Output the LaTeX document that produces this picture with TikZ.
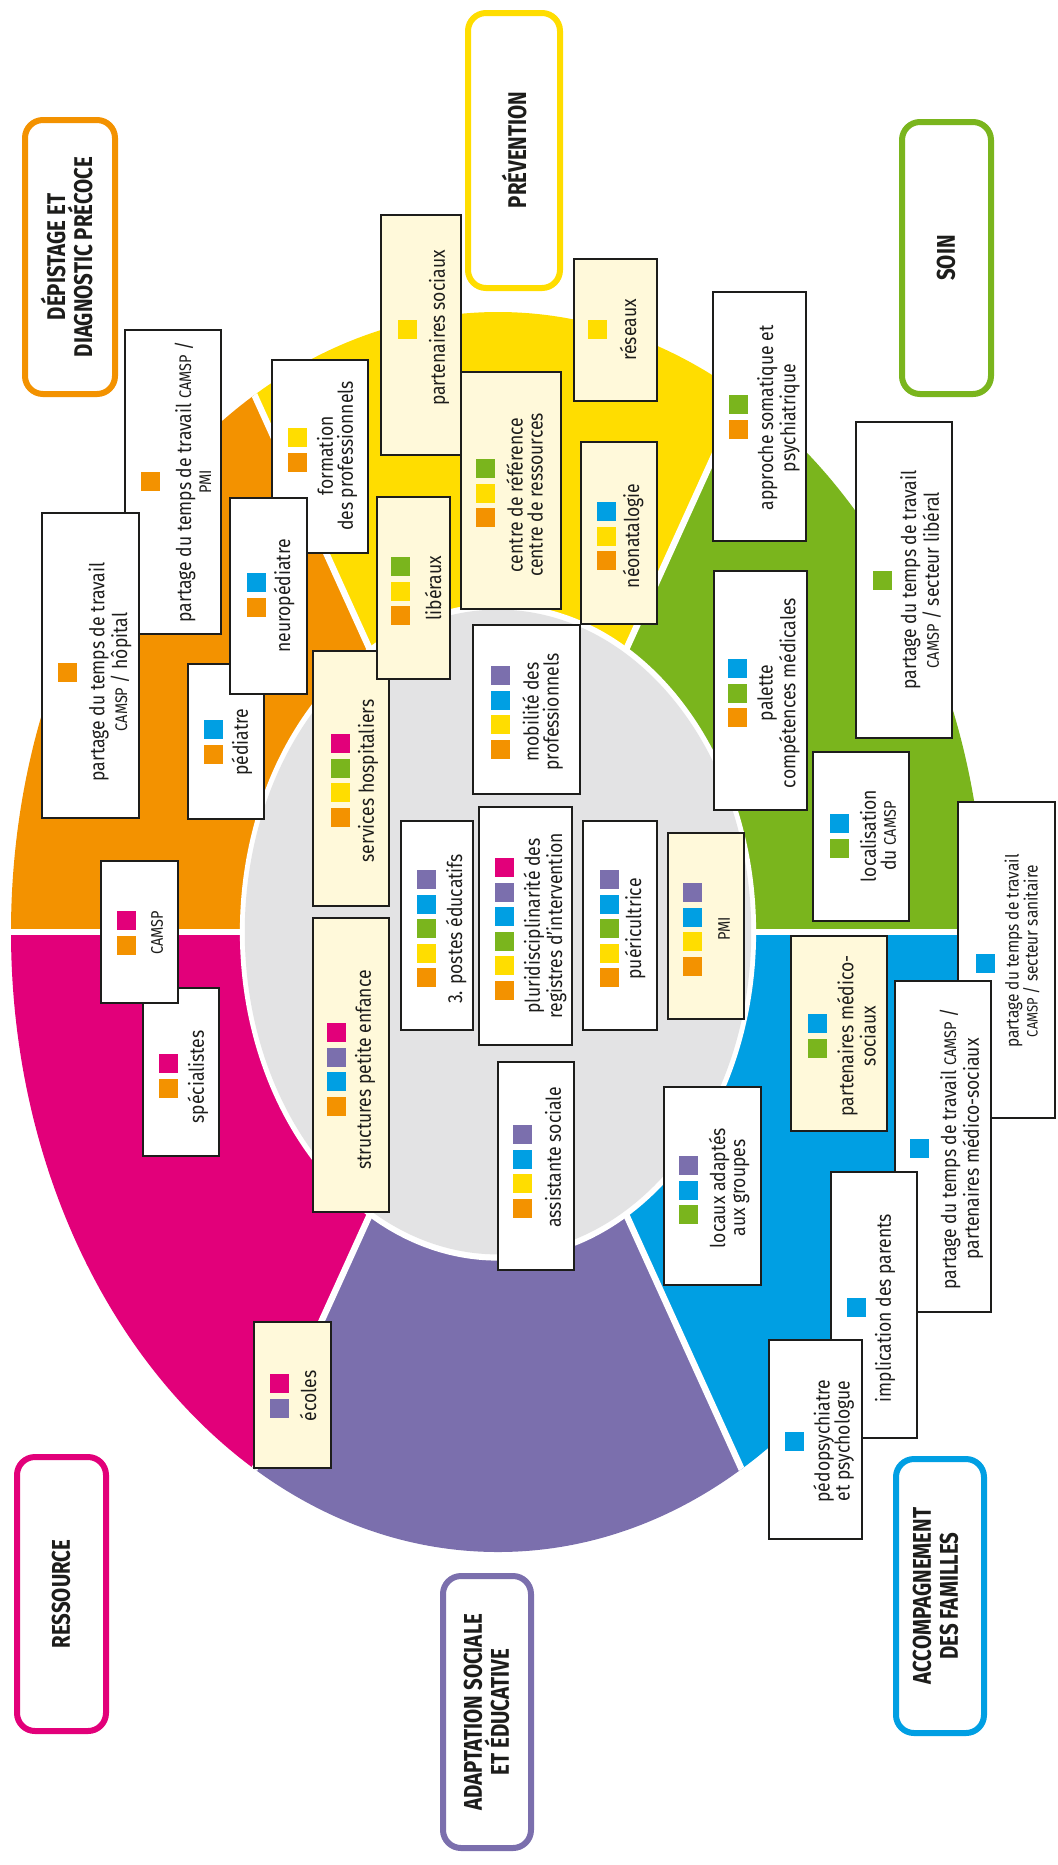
\documentclass[tikz,border=0pt]{standalone}
\usepackage{fontspec}
\setmainfont{Fira Sans}[FakeStretch=0.86]
\newfontfamily\hfont{Fira Sans}[FakeStretch=0.80]
\usetikzlibrary{fit}
\definecolor{cor}{HTML}{F39200}
\definecolor{cye}{HTML}{FFDD00}
\definecolor{cgr}{HTML}{7AB51D}
\definecolor{cbl}{HTML}{009FE3}
\definecolor{cpu}{HTML}{7B6FAD}
\definecolor{cma}{HTML}{E2007A}
\definecolor{cgy}{HTML}{E3E3E4}
\definecolor{ccr}{HTML}{FFF9DA}
\definecolor{ink}{HTML}{1D1D1B}
\newcommand\cam{{\fontsize{8.4}{10}\selectfont CAMSP}}
\newcommand\pmi{{\fontsize{8.4}{10}\selectfont PMI}}
\newcommand\ibx[6]{%
  \coordinate (#1-a) at (#2,#3); \coordinate (#1-b) at (#4,#5);
  \node[ibox, fill=#6, fit=(#1-a)(#1-b)] (#1) {};}
\newcommand\cbx[6]{%
  \coordinate (#1-a) at (#2+3,#3+3); \coordinate (#1-b) at (#4-3,#5-3);
  \node[cbox, draw=#6, fit=(#1-a)(#1-b)] (#1) {};}
\newcommand\sqs[3]{\foreach \c [count=\i from 0] in {#3} {\fill[\c] (#1,{#2+24.5*\i}) rectangle ++(19,19);}}
\begin{document}
\begin{tikzpicture}[x=0.5pt,y=-0.5pt,
  ibox/.style={draw=ink, line width=1pt, inner sep=0pt},
  cbox/.style={line width=3pt, rounded corners=9pt, fill=white, inner sep=0pt},
  txt/.style={rotate=90, align=center, text=ink, font=\fontsize{10.2}{10}\selectfont, inner sep=0pt},
  stxt/.style={rotate=90, align=center, text=ink, font=\fontsize{9}{9.5}\selectfont, inner sep=0pt},
  htxt/.style={rotate=90, align=center, text=ink, font=\hfont\bfseries\fontsize{12.8}{13.5}\selectfont, inner sep=0pt}]
\useasboundingbox (0,0) rectangle (1057,1865);
% ---- pie ----
\begin{scope}[shift={(498,932)}, x={(243.5pt,0pt)}, y={(0pt,310pt)}]
  \coordinate (ctr) at (0,0);
  \begin{scope}
    \clip (0,0) circle [radius=1];
    \fill[cgr] (0,0) -- (0:1.5) -- (30:1.5) -- (60:1.5) -- cycle;
    \fill[cye] (0,0) -- (60:1.5) -- (90:1.5) -- (120:1.5) -- cycle;
    \fill[cor] (0,0) -- (120:1.5) -- (150:1.5) -- (180:1.5) -- cycle;
    \fill[cma] (0,0) -- (180:1.5) -- (210:1.5) -- (240:1.5) -- cycle;
    \fill[cpu] (0,0) -- (240:1.5) -- (270:1.5) -- (300:1.5) -- cycle;
    \fill[cbl] (0,0) -- (300:1.5) -- (330:1.5) -- (360:1.5) -- cycle;
    \foreach \a in {0,60,...,300} {\draw[white, line width=3.2pt] (ctr) -- (\a:1.2);}
  \end{scope}
  \fill[white] (ctr) circle [radius=0.53];
  \fill[cgy] (ctr) circle [radius=0.52];
\end{scope}
% ---- category boxes ----
\cbx{dep}{22}{117}{118}{397}{cor}
\node[htxt] (dep-t) at (66.5,257) {DÉPISTAGE ET\\DIAGNOSTIC PRÉCOCE};
\cbx{prev}{465}{10}{563}{291}{cye}
\node[htxt] (prev-t) at (514,150) {PRÉVENTION};
\cbx{soin}{899}{119}{994}{397}{cgr}
\node[htxt] (soin-t) at (946,258) {SOIN};
\cbx{acc}{893}{1456}{987}{1736}{cbl}
\node[htxt] (acc-t) at (935.5,1596) {ACCOMPAGNEMENT\\DES FAMILLES};
\cbx{adapt}{440}{1573}{534}{1851}{cpu}
\node[htxt] (adapt-t) at (486.5,1712) {ADAPTATION SOCIALE\\ET ÉDUCATIVE};
\cbx{res}{14}{1454}{109}{1734}{cma}
\node[htxt] (res-t) at (61,1594) {RESSOURCE};
% ---- information boxes ----
\ibx{campmi}{125}{330}{221}{634}{white} \sqs{141}{472}{cor}
\node[txt] (campmi-t) at (193,482) {partage du temps de travail \cam{} /\\\pmi};
\ibx{camhop}{42}{513}{139}{818}{white} \sqs{58}{663}{cor}
\node[txt] (camhop-t) at (110,672) {partage du temps de travail\\\cam{} / hôpital};
\ibx{pedia}{188}{664}{264}{819}{white} \sqs{204}{720}{cbl,cor}
\node[txt] (pedia-t) at (242,742) {pédiatre};
\ibx{form}{272}{360}{368}{553}{white} \sqs{288}{428}{cye,cor}
\node[txt] (form-t) at (337,456) {formation\\des professionnels};
\ibx{neuro}{230}{498}{307}{694}{white} \sqs{247}{573}{cbl,cor}
\node[txt] (neuro-t) at (284,596) {neuropédiatre};
\ibx{psoc}{381}{215}{461}{455}{ccr} \sqs{398}{320}{cye}
\node[txt] (psoc-t) at (439,328) {partenaires sociaux};
\ibx{cref}{461}{372}{561}{609}{ccr} \sqs{476}{459}{cgr,cye,cor}
\node[txt] (cref-t) at (524.5,495) {centre de référence\\centre de ressources};
\ibx{servh}{313}{651}{389}{906}{ccr} \sqs{331}{734}{cma,cgr,cye,cor}
\node[txt] (servh-t) at (368,781) {services hospitaliers};
\ibx{liber}{377}{497}{450}{679}{ccr} \sqs{391}{557}{cgr,cye,cor}
\node[txt] (liber-t) at (433,588) {libéraux};
\ibx{struct}{313}{918}{389}{1212}{ccr} \sqs{327}{1023}{cma,cpu,cbl,cor}
\node[txt] (struct-t) at (365,1070) {structures petite enfance};
\ibx{spec}{143}{988}{219}{1156}{white} \sqs{159}{1054}{cma,cor}
\node[txt] (spec-t) at (198,1077) {spécialistes};
\ibx{camsp}{101}{861}{178}{1003}{white} \sqs{117}{911}{cma,cor}
\node[txt] (camsp-t) at (157,933) {\cam};
\ibx{ecoles}{254}{1322}{331}{1468}{ccr} \sqs{270}{1374}{cma,cpu}
\node[txt] (ecoles-t) at (308,1396) {écoles};
\ibx{postes}{401}{821}{473}{1030}{white} \sqs{417}{870}{cpu,cbl,cgr,cye,cor}
\node[txt] (postes-t) at (456,929) {3. postes éducatifs};
\ibx{pluri}{479}{807}{572}{1045}{white} \sqs{495}{858}{cma,cpu,cbl,cgr,cye,cor}
\node[txt] (pluri-t) at (545,926) {pluridisciplinarité des\\registres d'intervention};
\ibx{mobil}{473}{625}{580}{794}{white} \sqs{491}{666}{cpu,cbl,cye,cor}
\node[txt] (mobil-t) at (542.5,712) {mobilité des\\professionnels};
\ibx{assist}{498}{1062}{574}{1270}{white} \sqs{513}{1125}{cpu,cbl,cye,cor}
\node[txt] (assist-t) at (553,1157) {assistante sociale};
\ibx{pueri}{583}{821}{657}{1030}{white} \sqs{600}{870}{cpu,cbl,cgr,cye,cor}
\node[txt] (pueri-t) at (635,929) {puéricultrice};
\ibx{pmi}{668}{833}{744}{1019}{ccr} \sqs{683}{883}{cpu,cbl,cye,cor}
\node[txt] (pmi-t) at (724,929) {\pmi};
\ibx{reseaux}{574}{259}{657}{401}{ccr} \sqs{588}{320}{cye}
\node[txt] (reseaux-t) at (628,330) {réseaux};
\ibx{neonat}{581}{442}{657}{624}{ccr} \sqs{597}{502}{cbl,cye,cor}
\node[txt] (neonat-t) at (633,536) {néonatalogie};
\ibx{approche}{713}{292}{806}{541}{white} \sqs{729}{395}{cgr,cor}
\node[txt] (approche-t) at (778.5,418) {approche somatique et\\psychiatrique};
\ibx{palette}{714}{571}{807}{810}{white} \sqs{728}{659}{cbl,cgr,cor}
\node[txt] (palette-t) at (778.5,693) {palette\\compétences médicales};
\ibx{seclib}{856}{422}{952}{738}{white} \sqs{873}{571}{cgr}
\node[txt] (seclib-t) at (920.5,580) {partage du temps de travail\\\cam{} / secteur libéral};
\ibx{locali}{813}{752}{909}{921}{white} \sqs{830}{814}{cbl,cgr}
\node[txt] (locali-t) at (878,836) {localisation\\du \cam};
\ibx{secsan}{958}{802}{1055}{1118}{white} \sqs{976}{954}{cbl}
\node[stxt] (secsan-t) at (1022,951) {partage du temps de travail\\{\fontsize{7.5}{9}\selectfont CAMSP} / secteur sanitaire};
\ibx{pms}{791}{936}{887}{1131}{ccr} \sqs{808}{1014}{cbl,cgr}
\node[txt] (pms-t) at (856.5,1036) {partenaires médico-\\sociaux};
\ibx{pcms}{895}{981}{991}{1312}{white} \sqs{910}{1139}{cbl}
\node[txt] (pcms-t) at (961.5,1149) {partage du temps de travail \cam{} /\\partenaires médico-sociaux};
\ibx{locaux}{664}{1087}{761}{1285}{white} \sqs{679}{1156}{cpu,cbl,cgr}
\node[txt] (locaux-t) at (729,1188) {locaux adaptés\\aux groupes};
\ibx{implic}{831}{1172}{917}{1438}{white} \sqs{847}{1298}{cbl}
\node[txt] (implic-t) at (885,1308) {implication des parents};
\ibx{pedopsy}{769}{1340}{862}{1539}{white} \sqs{785}{1432}{cbl}
\node[txt] (pedopsy-t) at (833.5,1441) {pédopsychiatre\\et psychologue};
\end{tikzpicture}
\end{document}
